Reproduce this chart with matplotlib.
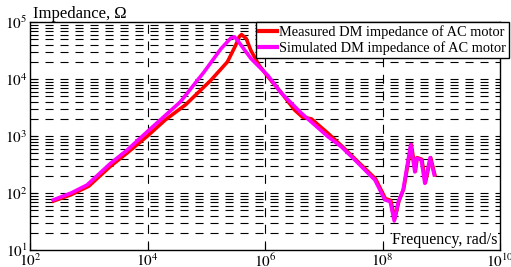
import numpy as np
import matplotlib
matplotlib.use("Agg")
import matplotlib.pyplot as plt
from matplotlib.ticker import FixedLocator, NullLocator

plt.rcParams['font.family'] = ['Liberation Serif', 'DejaVu Serif']
plt.rcParams['mathtext.fontset'] = 'stix'
plt.rcParams['lines.scale_dashes'] = False

# Measured DM impedance (red): log10 frequency (rad/s) and log10 impedance (Ohm)
meas_logf = [2.40, 2.70, 3.00, 3.37, 3.65, 4.00, 4.30, 4.65, 5.08, 5.36, 5.50, 5.56, 5.60, 5.68,
             5.76, 5.90, 6.05, 6.27, 6.50, 6.64, 6.79, 7.07, 7.30, 7.53, 7.82, 7.88, 8.05, 8.14,
             8.21, 8.28, 8.36, 8.49, 8.56, 8.59, 8.67, 8.73, 8.82, 8.89]
meas_logz = [1.86, 1.97, 2.12, 2.47, 2.70, 3.00, 3.28, 3.55, 3.98, 4.30, 4.59, 4.74, 4.78, 4.71,
             4.50, 4.24, 4.04, 3.77, 3.46, 3.33, 3.30, 3.05, 2.83, 2.60, 2.31, 2.25, 1.90, 1.87,
             1.55, 1.86, 2.07, 2.85, 2.38, 2.62, 2.59, 2.18, 2.62, 2.32]

# Simulated DM impedance (magenta)
sim_logf = [2.40, 2.70, 2.97, 3.37, 3.65, 4.00, 4.56, 4.96, 5.25, 5.42, 5.48, 5.53, 5.76, 6.05,
            6.27, 6.62, 7.07, 7.30, 7.53, 7.81, 7.87, 8.04, 8.13, 8.20, 8.27, 8.35, 8.48, 8.55,
            8.58, 8.66, 8.72, 8.81, 8.88]
sim_logz = [1.88, 2.00, 2.14, 2.52, 2.75, 3.08, 3.60, 4.12, 4.53, 4.72, 4.74, 4.68, 4.36, 4.06,
            3.76, 3.40, 2.99, 2.81, 2.58, 2.29, 2.23, 1.88, 1.85, 1.51, 1.85, 2.05, 2.85, 2.37,
            2.61, 2.58, 2.17, 2.62, 2.32]

series_labels = ["Measured DM impedance of AC motor", "Simulated DM impedance of AC motor"]
x_ticks = [1e2, 1e4, 1e6, 1e8, 1e10]
x_ticklabels = [r"$10^{2}$", r"$10^{4}$", r"$10^{6}$", r"$10^{8}$", r"$10^{10}$"]
y_ticks = [1e1, 1e2, 1e3, 1e4, 1e5]
y_ticklabels = [r"$10^{1}$", r"$10^{2}$", r"$10^{3}$", r"$10^{4}$", r"$10^{5}$"]

meas_freq = np.power(10.0, meas_logf)
meas_imp = np.power(10.0, meas_logz)
sim_freq = np.power(10.0, sim_logf)
sim_imp = np.power(10.0, sim_logz)

W, H = 511, 267
fig = plt.figure(figsize=(W/100, H/100), dpi=100)
ax = fig.add_axes([30/W, 1-250/H, 470/W, 228/H])
ax.set_xscale('log')
ax.set_yscale('log')
ax.set_xlim(1e2, 1e10)
ax.set_ylim(1e1, 1e5)

dash = (0, (5.8, 5.0))
for k in range(1, 5):
    for m in range(1, 10):
        v = m * 10**k
        if 1e1 < v < 1e5:
            ax.axhline(v, color='black', lw=0.8, linestyle=dash, zorder=1)
for v in [1e4, 1e6, 1e8]:
    ax.axvline(v, color='black', lw=0.8, linestyle=(0, (6.5, 5.5)), zorder=1)

ax.plot(meas_freq, meas_imp, color='#ff0000', lw=2.6, label=series_labels[0], zorder=3)
ax.plot(sim_freq, sim_imp, color='#ff00ff', lw=2.6, label=series_labels[1], zorder=4)

ax.xaxis.set_major_locator(FixedLocator(x_ticks))
ax.set_xticklabels(x_ticklabels)
ax.xaxis.set_minor_locator(NullLocator())
ax.yaxis.set_major_locator(FixedLocator(y_ticks))
ax.set_yticklabels(y_ticklabels)
ax.yaxis.set_minor_locator(NullLocator())
ax.tick_params(direction='in', length=5, width=0.8, labelsize=11, pad=2)
for s in ax.spines.values():
    s.set_linewidth(1.0)

ax.text(0.006, 1.0, "Impedance, \u03a9", transform=ax.transAxes, ha='left', va='bottom',
        fontsize=12)
ax.text(0.995, 0.008, "Frequency, rad/s", transform=ax.transAxes, ha='right', va='bottom',
        fontsize=11.5, bbox=dict(facecolor='white', edgecolor='none', pad=0.5))

leg = ax.legend(loc='upper right', bbox_to_anchor=(1.019, 1.0), borderaxespad=0,
                fontsize=10.4, handlelength=1.25, handletextpad=0.15, borderpad=0.2,
                labelspacing=0.15, fancybox=False, framealpha=1, edgecolor='black')
leg.set_zorder(10)
leg.get_frame().set_linewidth(1.0)
for line in leg.get_lines():
    line.set_linewidth(3)

fig.savefig("out.png", dpi=100)
